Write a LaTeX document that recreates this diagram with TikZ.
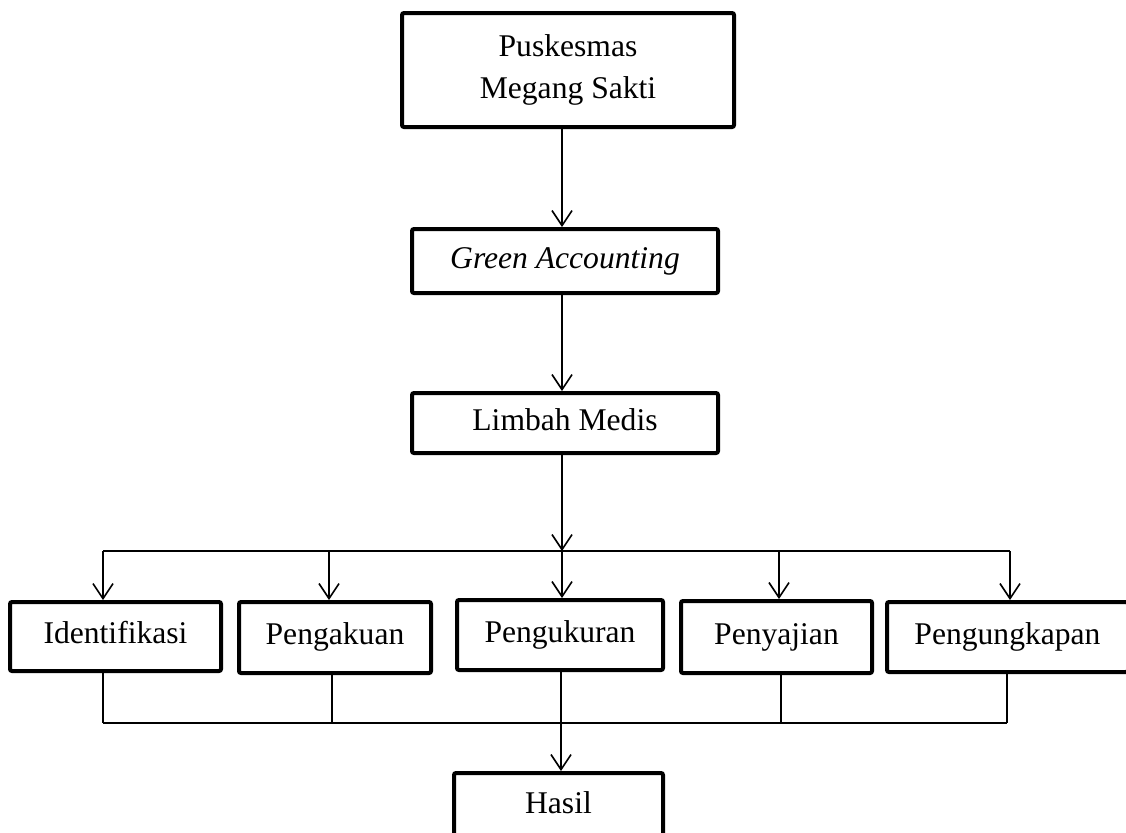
\documentclass[tikz,border=0pt]{standalone}
\usepackage{fontspec}
\setmainfont{Liberation Serif}
\usetikzlibrary{arrows.meta}

\begin{document}
\begin{tikzpicture}[x=0.5pt,y=-0.5pt,
    kotak/.style={draw,line width=2pt,rounded corners=1pt,inner sep=0pt,align=center},
    baris/.style={kotak,text height=0.7em,text depth=0.25em},
    panah/.style={-{Straight Barb[length=7.5pt,width=10pt]},line width=0.8pt},
    garis/.style={line width=0.8pt}]
  \fontsize{15.8pt}{21pt}\selectfont
  \clip (0,0) rectangle (1126,832);
  \draw
    (568,70) node[kotak,minimum width=166pt,minimum height=57pt] (puskesmas){Puskesmas\\Megang Sakti}
    (565,261) node[baris,minimum width=153pt,minimum height=32pt] (green){\textit{Green Accounting}}
    (565,423) node[baris,minimum width=153pt,minimum height=30pt] (limbah){Limbah Medis}
    (115.5,636.5) node[baris,minimum width=105.5pt,minimum height=34.5pt] (identifikasi){Identifikasi}
    (335,637.5) node[baris,minimum width=96pt,minimum height=35.5pt] (pengakuan){Pengakuan}
    (560,635) node[baris,minimum width=103pt,minimum height=35pt] (pengukuran){Pengukuran}
    (776.5,637) node[baris,minimum width=95.5pt,minimum height=36pt] (penyajian){Penyajian}
    (1007.5,637) node[baris,minimum width=120.5pt,minimum height=35pt] (pengungkapan){Pengungkapan}
    (558.5,806) node[baris,minimum width=104.5pt,minimum height=33pt] (hasil){Hasil};
  % titik cabang
  \coordinate (atas1) at (103,551);
  \coordinate (atas2) at (329,551);
  \coordinate (atas3) at (562,551);
  \coordinate (atas4) at (779,551);
  \coordinate (atas5) at (1010,551);
  \coordinate (bawah1) at (103,723);
  \coordinate (bawah2) at (332,723);
  \coordinate (bawah3) at (561,723);
  \coordinate (bawah4) at (781,723);
  \coordinate (bawah5) at (1007,723);
  \begin{scope}[panah]
    \draw (puskesmas.south -| atas3) to (green.north -| atas3);
    \draw (green.south -| atas3) to (limbah.north -| atas3);
    \draw (limbah.south -| atas3) to (atas3);
    \draw (atas1) to (atas1 |- identifikasi.north);
    \draw (atas2) to (atas2 |- pengakuan.north);
    \draw (atas3) to (atas3 |- pengukuran.north);
    \draw (atas4) to (atas4 |- penyajian.north);
    \draw (atas5) to (atas5 |- pengungkapan.north);
    \draw (bawah3) to (bawah3 |- hasil.north);
  \end{scope}
  \begin{scope}[garis]
    \draw (atas1) to (atas5);
    \draw (identifikasi.south -| bawah1) to (bawah1);
    \draw (pengakuan.south -| bawah2) to (bawah2);
    \draw (pengukuran.south -| bawah3) to (bawah3);
    \draw (penyajian.south -| bawah4) to (bawah4);
    \draw (pengungkapan.south -| bawah5) to (bawah5);
    \draw (bawah1) to (bawah5);
  \end{scope}
\end{tikzpicture}
\end{document}
